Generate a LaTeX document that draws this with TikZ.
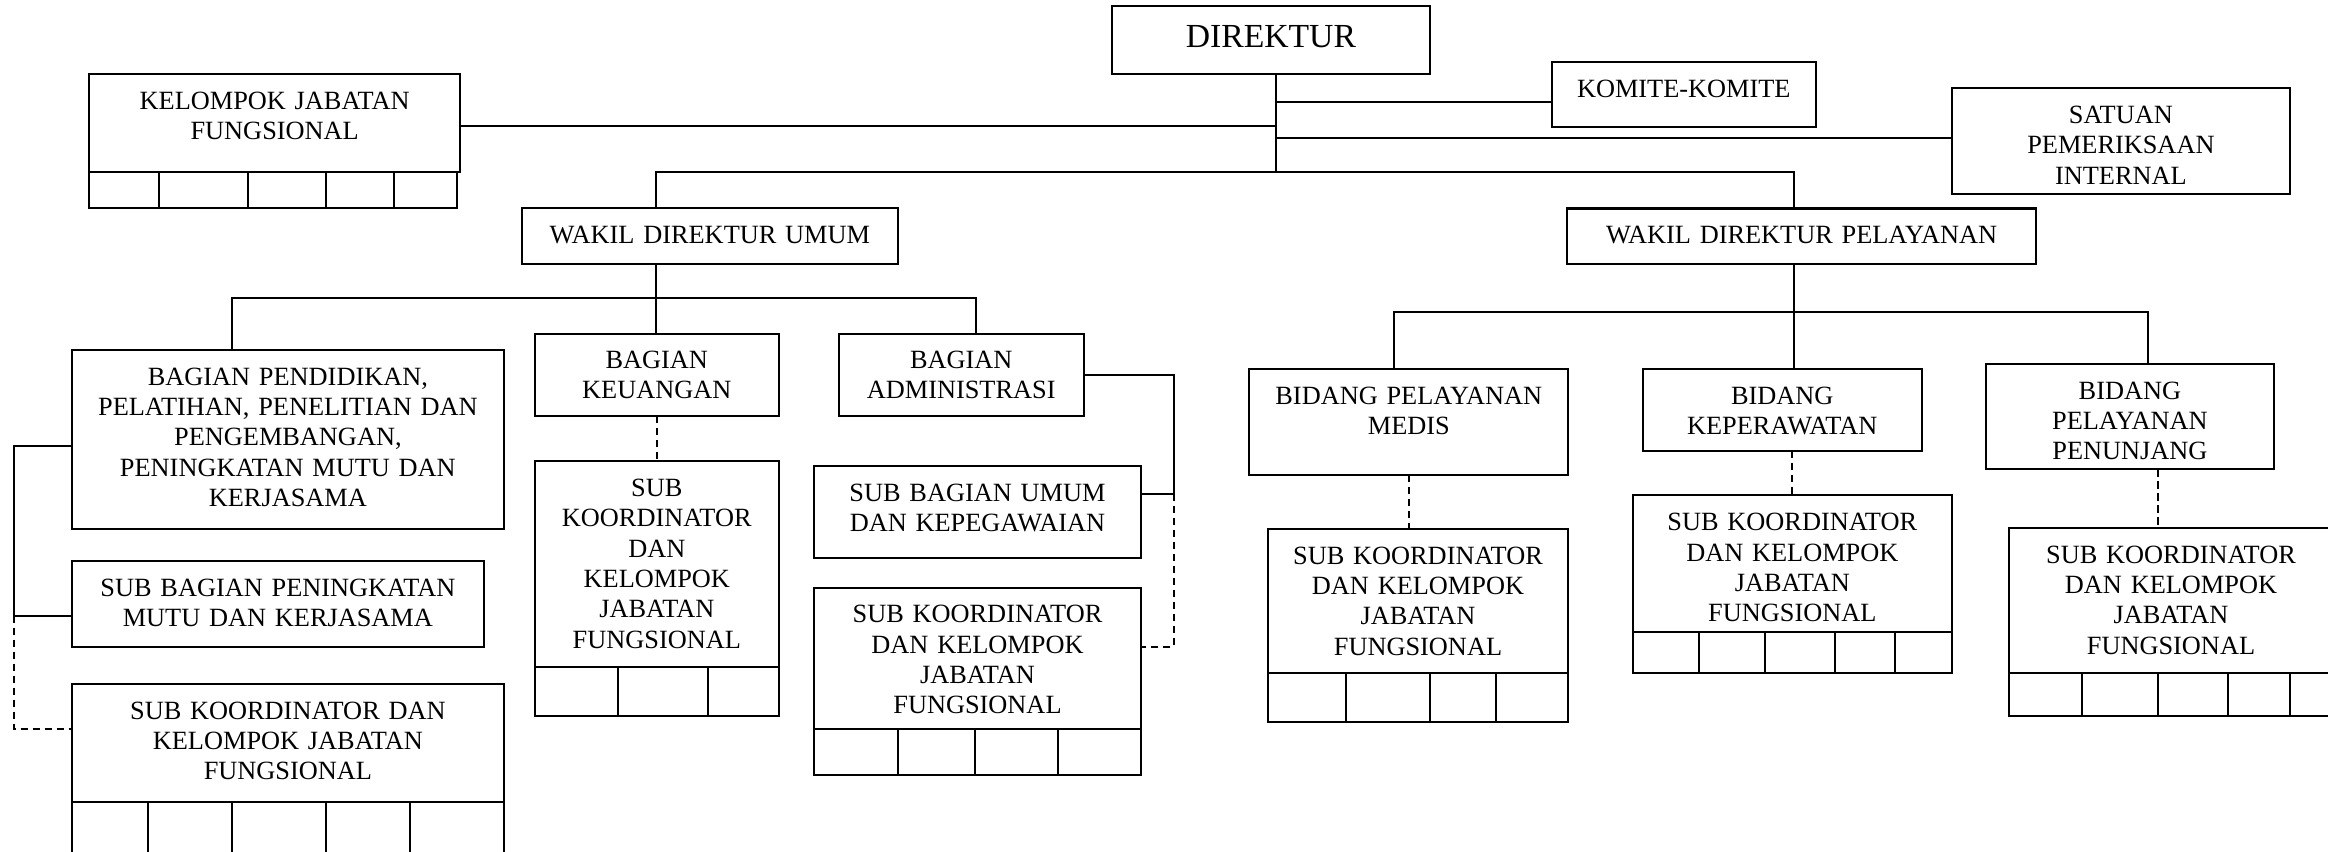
\documentclass[tikz,border=0pt]{standalone}
\usepackage{fontspec}
\setmainfont{Liberation Serif}
\usetikzlibrary{fit}
\begin{document}
\begin{tikzpicture}[x=0.3pt,y=0.3pt,yscale=-1,xscale=1,
  font=\fontsize{7.9}{9.1}\selectfont,
  box/.style={draw, line width=0.65pt, inner sep=0pt, outer sep=0pt},
  lbl/.style={text width=150pt, align=center, inner sep=0pt, anchor=base},
  link/.style={line width=0.6pt},
  dlink/.style={line width=0.6pt, dash pattern=on 2.2pt off 1.4pt}]
\useasboundingbox (0,0) rectangle (2328,851);

%Shape: Rectangle
\node [box, fit={(1111.7,6) (1430,74)}] (dir) {};
%Shape: Rectangle
\node [box, fit={(1551.6,61.8) (1816,126.7)}] (kom) {};
%Shape: Rectangle
\node [box, fit={(1951.7,87.7) (2290,194)}] (spi) {};
%Shape: Rectangle
\node [box, fit={(89.3,74.3) (460,171.7)}] (kjf) {};
\node [box, fit={(89.3,171.7) (457.3,208.3)}] (kjf-g) {};
\foreach \x in {159.3,247.7,326,394} \draw [line width=0.65pt] (\x,171.7) -- (\x,208.3);
%Shape: Rectangle
\node [box, fit={(522,208.3) (897.7,264.3)}] (wu) {};
%Shape: Rectangle
\node [box, fit={(1567.4,208.5) (2036,263.8)}] (wp) {};

%Shape: Rectangle
\node [box, fit={(71.7,350) (504,528.7)}] (pend) {};
%Shape: Rectangle
\node [box, fit={(71.7,561) (484,646.7)}] (sbp) {};
%Shape: Rectangle
\node [box, fit={(71.7,684) (504,801.7)}] (skl) {};
\node [box, fit={(71.7,801.7) (504,875)}] (skl-g) {};
\foreach \x in {147.7,231.7,325.7,410} \draw [line width=0.65pt] (\x,801.7) -- (\x,875);
%Shape: Rectangle
\node [box, fit={(534.7,334) (778.8,416)}] (keu) {};
%Shape: Rectangle
\node [box, fit={(534.7,461.3) (778.8,667.3)}] (skk) {};
\node [box, fit={(534.7,667.3) (778.8,716)}] (skk-g) {};
\foreach \x in {617.6,707.7} \draw [line width=0.65pt] (\x,667.3) -- (\x,716);
%Shape: Rectangle
\node [box, fit={(838.6,334) (1083.8,416)}] (adm) {};
%Shape: Rectangle
\node [box, fit={(814.2,465.7) (1140.8,557.7)}] (sbu) {};
%Shape: Rectangle
\node [box, fit={(814.2,587.7) (1140.8,729.3)}] (ska) {};
\node [box, fit={(814.2,729.3) (1140.8,775.3)}] (ska-g) {};
\foreach \x in {898,975.4,1057.9} \draw [line width=0.65pt] (\x,729.3) -- (\x,775.3);

%Shape: Rectangle
\node [box, fit={(1249.3,369.3) (1568.3,475)}] (med) {};
%Shape: Rectangle
\node [box, fit={(1267.7,529) (1568.3,673.3)}] (skm) {};
\node [box, fit={(1267.7,673.3) (1568.3,721.7)}] (skm-g) {};
\foreach \x in {1346,1430.3,1496.3} \draw [line width=0.65pt] (\x,673.3) -- (\x,721.7);
%Shape: Rectangle
\node [box, fit={(1642.7,369.3) (1921.7,451)}] (kep) {};
%Shape: Rectangle
\node [box, fit={(1632.7,495.3) (1952,632)}] (skp) {};
\node [box, fit={(1632.7,632) (1952,673.3)}] (skp-g) {};
\foreach \x in {1699,1765,1835,1895.3} \draw [line width=0.65pt] (\x,632) -- (\x,673.3);
%Shape: Rectangle
\node [box, fit={(1985.7,364) (2274,469.3)}] (pen) {};
%Shape: Rectangle
\node [box, fit={(2009,528.3) (2333,672.7)}] (skpn) {};
\node [box, fit={(2009,672.7) (2333,715.7)}] (skpn-g) {};
\foreach \x in {2082,2158.3,2228,2290} \draw [line width=0.65pt] (\x,672.7) -- (\x,715.7);

%Straight Lines
\coordinate (trunk) at (1276,172.3);
\coordinate (jk) at (1276,101.7);
\coordinate (jf) at (1276,126);
\coordinate (js) at (1276,137.5);
\draw [link] (trunk |- dir.south) -- (trunk);
\draw [link] (jk) -- (jk -| kom.west);
\draw [link] (jf) -- (jf -| kjf.east);
\draw [link] (js) -- (js -| spi.west);
%Straight Lines
\coordinate (busA) at (655.8,172.3);
\coordinate (busB) at (1794,172.3);
\draw [link] (busA |- wu.north) -- (busA) -- (busB) -- (busB |- wp.north);
%Straight Lines
\coordinate (busC) at (231.9,298.3);
\coordinate (busD) at (975.7,298.3);
\draw [link] (busA |- wu.south) -- (busA |- keu.north);
\draw [link] (busC |- pend.north) -- (busC) -- (busD) -- (busD |- adm.north);
%Straight Lines
\coordinate (busE) at (1394.2,312);
\coordinate (busF) at (2148,312);
\draw [link] (busB |- wp.south) -- (busB |- kep.north);
\draw [link] (busE |- med.north) -- (busE) -- (busF) -- (busF |- pen.north);
%Dashed Lines
\coordinate (dpen) at (2158.3,0);
\draw [dlink] (keu.south) -- (skk.north);
\draw [dlink] (med.south) -- (med.south |- skm.north);
\draw [dlink] (skp.north |- kep.south) -- (skp.north);
\draw [dlink] (dpen |- pen.south) -- (dpen |- skpn.north);
%Straight Lines
\coordinate (lb1) at (14,446);
\coordinate (lb2) at (14,615.7);
\coordinate (lb3) at (14,729);
\draw [link] (lb1 -| pend.west) -- (lb1) -- (lb2) -- (lb2 -| sbp.west);
\draw [dlink] (lb2) -- (lb3) -- (lb3 -| skl.west);
%Straight Lines
\coordinate (rb1) at (1173.6,374.7);
\coordinate (rb2) at (1173.6,494);
\coordinate (rb3) at (1173.6,646.7);
\draw [link] (rb1 -| adm.east) -- (rb1) -- (rb2) -- (rb2 -| sbu.east);
\draw [dlink] (rb2) -- (rb3) -- (rb3 -| ska.east);

% Text Node
\node [lbl, font=\fontsize{10.1}{12}\selectfont] (dir-t) at (1270.9,47.7) {DIREKTUR};
% Text Node
\node [lbl] (kom-t) at (1683.8,97.7) {KOMITE-KOMITE};
% Text Node
\node [lbl] (spi-t) at (2120.9,123.5) {SATUAN\\PEMERIKSAAN\\INTERNAL};
% Text Node
\node [lbl] (kjf-t) at (274.7,109.6) {KELOMPOK JABATAN\\FUNGSIONAL};
% Text Node
\node [lbl] (wu-t) at (709.9,243.3) {WAKIL DIREKTUR UMUM};
% Text Node
\node [lbl] (wp-t) at (1801.7,243.5) {WAKIL DIREKTUR PELAYANAN};
% Text Node
\node [lbl] (pend-t) at (287.9,385) {BAGIAN PENDIDIKAN,\\PELATIHAN, PENELITIAN DAN\\PENGEMBANGAN,\\PENINGKATAN MUTU DAN\\KERJASAMA};
% Text Node
\node [lbl] (sbp-t) at (277.9,596.3) {SUB BAGIAN PENINGKATAN\\MUTU DAN KERJASAMA};
% Text Node
\node [lbl] (skl-t) at (287.9,719.3) {SUB KOORDINATOR DAN\\KELOMPOK JABATAN\\FUNGSIONAL};
% Text Node
\node [lbl] (keu-t) at (656.8,368.5) {BAGIAN\\KEUANGAN};
% Text Node
\node [lbl] (skk-t) at (656.8,496.5) {SUB\\KOORDINATOR\\DAN\\KELOMPOK\\JABATAN\\FUNGSIONAL};
% Text Node
\node [lbl] (adm-t) at (961.2,368.5) {BAGIAN\\ADMINISTRASI};
% Text Node
\node [lbl] (sbu-t) at (977.5,501) {SUB BAGIAN UMUM\\DAN KEPEGAWAIAN};
% Text Node
\node [lbl] (ska-t) at (977.5,622.7) {SUB KOORDINATOR\\DAN KELOMPOK\\JABATAN\\FUNGSIONAL};
% Text Node
\node [lbl] (med-t) at (1408.8,404) {BIDANG PELAYANAN\\MEDIS};
% Text Node
\node [lbl] (skm-t) at (1418,564) {SUB KOORDINATOR\\DAN KELOMPOK\\JABATAN\\FUNGSIONAL};
% Text Node
\node [lbl] (kep-t) at (1782.2,404) {BIDANG\\KEPERAWATAN};
% Text Node
\node [lbl] (skp-t) at (1792.3,530.7) {SUB KOORDINATOR\\DAN KELOMPOK\\JABATAN\\FUNGSIONAL};
% Text Node
\node [lbl] (pen-t) at (2129.9,399.3) {BIDANG\\PELAYANAN\\PENUNJANG};
% Text Node
\node [lbl] (skpn-t) at (2171,563) {SUB KOORDINATOR\\DAN KELOMPOK\\JABATAN\\FUNGSIONAL};

\end{tikzpicture}
\end{document}
